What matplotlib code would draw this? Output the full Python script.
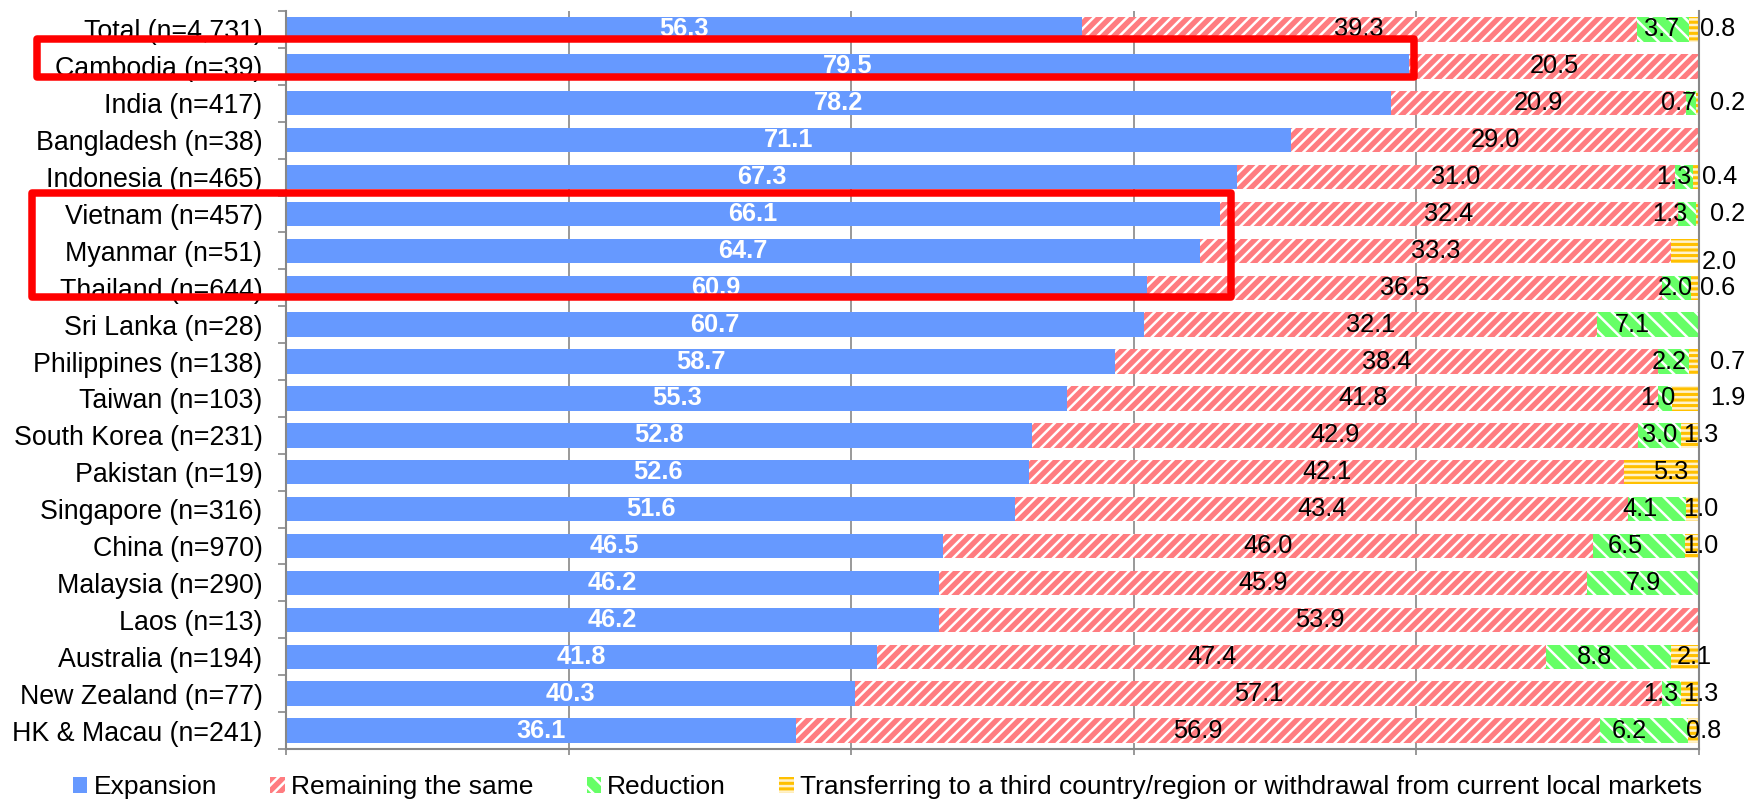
import numpy as np
import matplotlib.pyplot as plt
from matplotlib.patches import Rectangle

plt.rcParams['font.family'] = ['Liberation Sans', 'DejaVu Sans']
plt.rcParams['hatch.linewidth'] = 1.8

# Survey results: outlook for business over the next 1-2 years (%).
countries = ['Total (n=4,731)', 'Cambodia (n=39)', 'India (n=417)', 'Bangladesh (n=38)',
             'Indonesia (n=465)', 'Vietnam (n=457)', 'Myanmar (n=51)', 'Thailand (n=644)',
             'Sri Lanka (n=28)', 'Philippines (n=138)', 'Taiwan (n=103)', 'South Korea (n=231)',
             'Pakistan (n=19)', 'Singapore (n=316)', 'China (n=970)', 'Malaysia (n=290)',
             'Laos (n=13)', 'Australia (n=194)', 'New Zealand (n=77)', 'HK & Macau (n=241)']
expansion = [56.3, 79.5, 78.2, 71.1, 67.3, 66.1, 64.7, 60.9, 60.7, 58.7,
             55.3, 52.8, 52.6, 51.6, 46.5, 46.2, 46.2, 41.8, 40.3, 36.1]
same = [39.3, 20.5, 20.9, 29.0, 31.0, 32.4, 33.3, 36.5, 32.1, 38.4,
        41.8, 42.9, 42.1, 43.4, 46.0, 45.9, 53.9, 47.4, 57.1, 56.9]
reduction = [3.7, 0.0, 0.7, 0.0, 1.3, 1.3, 0.0, 2.0, 7.1, 2.2,
             1.0, 3.0, 0.0, 4.1, 6.5, 7.9, 0.0, 8.8, 1.3, 6.2]
transfer = [0.8, 0.0, 0.2, 0.0, 0.4, 0.2, 2.0, 0.6, 0.0, 0.7,
            1.9, 1.3, 5.3, 1.0, 1.0, 0.0, 0.0, 2.1, 1.3, 0.8]

legend_labels = ['Expansion', 'Remaining the same', 'Reduction',
                 'Transferring to a third country/region or withdrawal from current local markets']

# small transfer labels that sit outside the plot: row -> (x, y shift)
outside_labels = {0: (100.1, 0), 2: (100.8, 0), 4: (100.2, 0), 5: (100.8, 0),
                  6: (100.2, 0.3), 7: (100.1, 0), 9: (100.8, 0), 10: (100.8, 0)}
# nudges for crowded labels near the right edge (data units)
reduction_shift = {0: -0.1, 2: -0.9, 4: -0.75, 5: -1.2, 7: -0.1, 8: -1.05, 9: -0.3,
                   10: -0.55, 13: -1.25, 14: -0.95, 17: -1.0, 18: -0.75, 19: -1.0}
transfer_shift = {11: 0.75, 12: 0.65, 13: 0.5, 14: 0.6, 17: 0.6, 18: 0.75, 19: 0.7}

fig = plt.figure(figsize=(17.46, 7.99), dpi=100)
ax = fig.add_axes([0.1638, 0.0626, 0.8093, 0.9236])

y = np.arange(len(countries))
h = 0.66
expansion = np.array(expansion)
same = np.array(same)
reduction = np.array(reduction)
transfer = np.array(transfer)

b1 = ax.barh(y, expansion, h, color='#6699FF', lw=0, zorder=2)
b2 = ax.barh(y, same, h, left=expansion, color='#FF7C80', edgecolor='white',
             hatch='///', lw=0, zorder=2)
b3 = ax.barh(y, reduction, h, left=expansion + same, color='#66FF66', edgecolor='white',
             hatch='\\\\', lw=0, zorder=2)
b4 = ax.barh(y, transfer, h, left=expansion + same + reduction, color='#FFC000',
             edgecolor='#FFF2CC', hatch='---', lw=0, zorder=2)

fs = 18.3
for i in range(len(countries)):
    ax.text(expansion[i] / 2, i, f'{expansion[i]:.1f}', ha='center', va='center',
            color='white', fontsize=fs, fontweight='bold', zorder=3)
    ax.text(expansion[i] + same[i] / 2, i, f'{same[i]:.1f}', ha='center', va='center',
            fontsize=fs, zorder=3)
    if reduction[i] > 0:
        x0 = expansion[i] + same[i] + reduction[i] / 2 + reduction_shift.get(i, 0)
        ax.text(x0, i, f'{reduction[i]:.1f}', ha='center', va='center',
                fontsize=fs, zorder=3)
    if transfer[i] > 0:
        if i in outside_labels:
            tx, dy = outside_labels[i]
            ax.text(tx, i + dy, f'{transfer[i]:.1f}', ha='left', va='center',
                    fontsize=fs, zorder=3, clip_on=False)
        else:
            x0 = expansion[i] + same[i] + reduction[i] + transfer[i] / 2 + transfer_shift.get(i, 0)
            ax.text(x0, i, f'{transfer[i]:.1f}', ha='center', va='center',
                    fontsize=fs, zorder=3, clip_on=False)

ax.set_xlim(0, 100)
ax.set_ylim(len(countries) - 0.5, -0.5)
ax.set_yticks(y)
ax.set_yticklabels(countries, fontsize=19.3)
ax.set_yticks(np.arange(len(countries) + 1) - 0.5, minor=True)
ax.tick_params(axis='y', which='major', length=0, pad=17)
ax.tick_params(axis='y', which='minor', length=6, width=1.2, color='#888888', direction='out')
ax.set_xticks(np.arange(0, 101, 20))
ax.tick_params(axis='x', length=4, width=1.2, color='#888888', labelbottom=False)
ax.grid(axis='x', color='#888888', lw=1.2, zorder=0)
ax.set_axisbelow(True)
for s in ['left', 'bottom', 'right']:
    ax.spines[s].set_color('#888888')
    ax.spines[s].set_linewidth(1.5)
ax.spines['top'].set_visible(False)

# highlight boxes
for (x0, x1, y0, y1) in [(-17.6, 79.8, 0.27, 1.29), (-18.0, 66.9, 4.43, 7.25)]:
    r = Rectangle((x0, y0), x1 - x0, y1 - y0, fill=False, edgecolor='#FF0000',
                  lw=5.4, joinstyle='round', clip_on=False, zorder=5)
    ax.add_patch(r)

fig.legend([b1, b2, b3, b4], legend_labels, loc='center left',
           bbox_to_anchor=(0.0418, 0.015), ncol=4, frameon=False, fontsize=19,
           handlelength=0.55, handleheight=0.55, handletextpad=0.23,
           columnspacing=2.02, borderpad=0, borderaxespad=0)

fig.savefig('out.png', dpi=100)
